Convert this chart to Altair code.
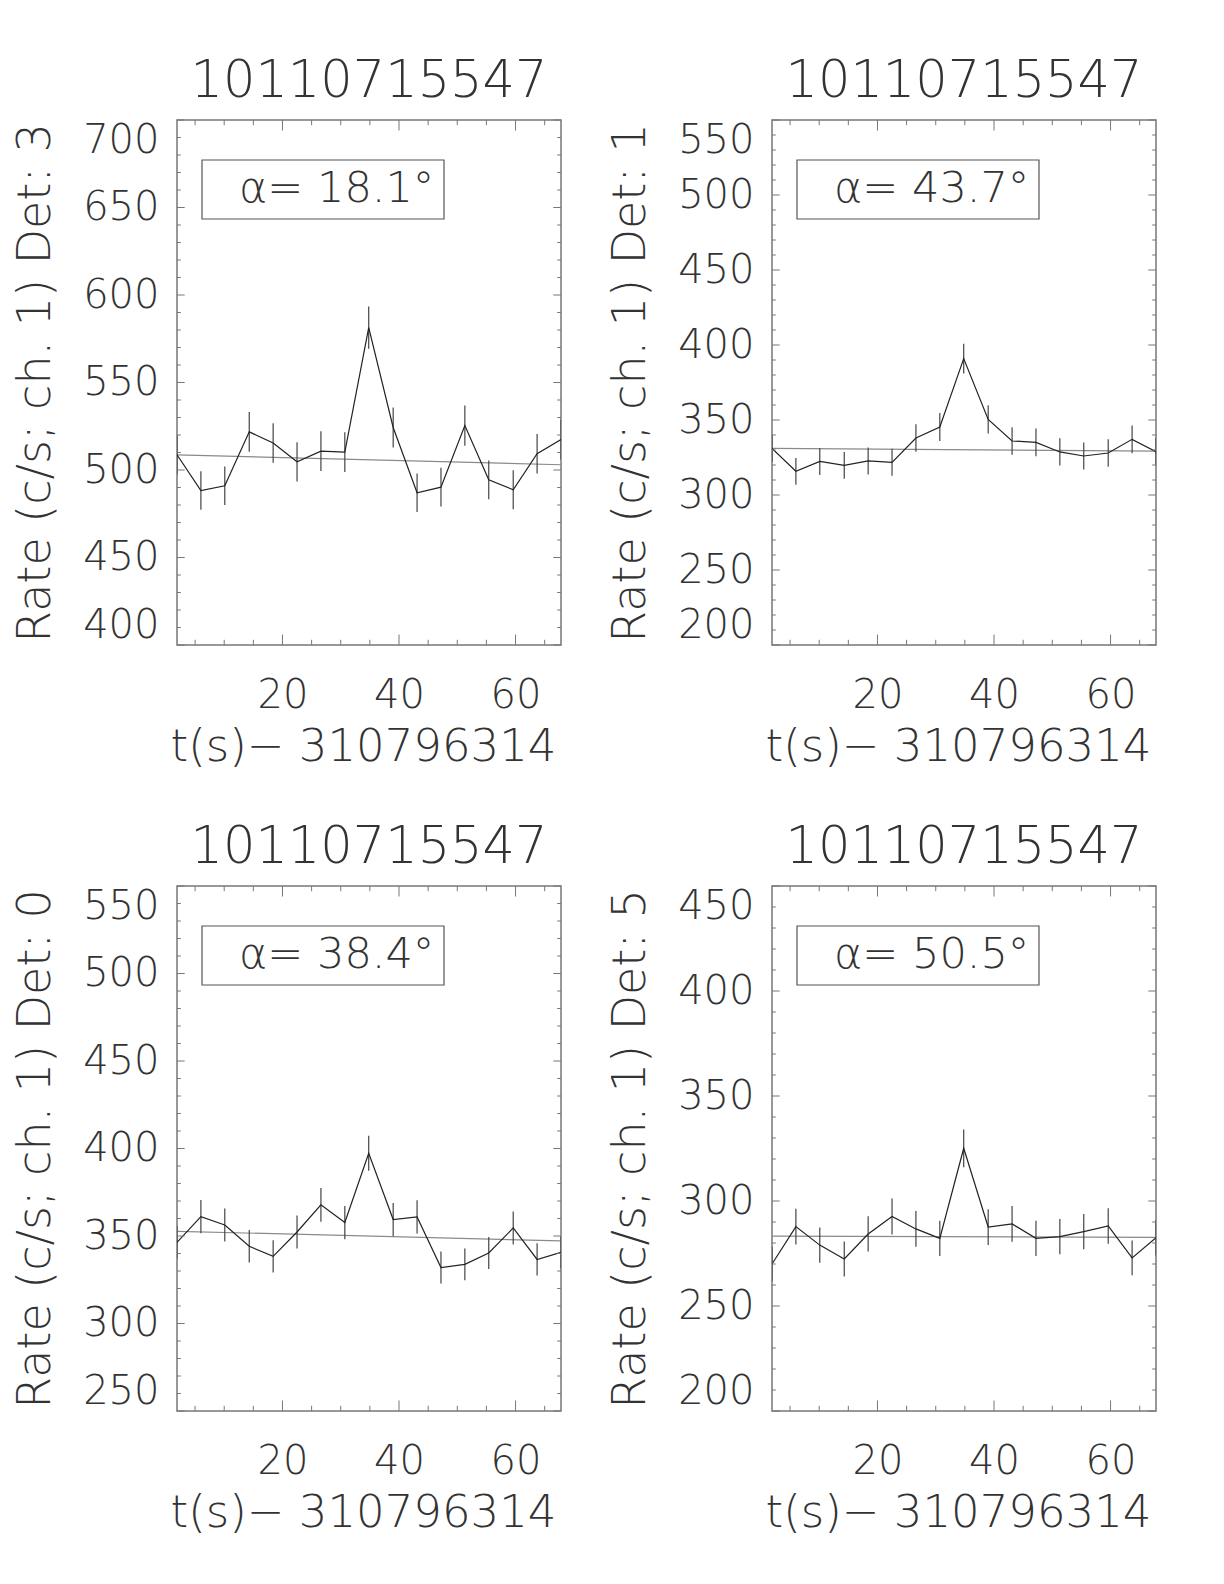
import altair as alt
import pandas as pd

# ---- data ----
t = [1.9, 6.0, 10.1, 14.3, 18.4, 22.5, 26.6, 30.7, 34.8, 39.0, 43.1, 47.2, 51.3, 55.4, 59.6, 63.7, 67.8]

obs_id = "10110715547"
x_title = "t(s)\u2212 310796314"
dets = [3, 1, 0, 5]
alphas = ["18.1", "43.7", "38.4", "50.5"]
y_domains = [[400, 700], [200, 550], [250, 550], [200, 450]]

rates1 = [508.7, 488.3, 491.0, 521.8, 515.4, 504.7, 510.8, 510.2, 581.4, 524.3, 487.0, 490.2, 525.4, 494.4, 488.7, 509.3, 517.4]
rates2 = [331.1, 315.8, 322.4, 319.8, 322.7, 321.8, 338.0, 345.3, 390.9, 350.4, 336.0, 335.1, 328.7, 326.0, 328.0, 337.1, 328.9]
rates3 = [346.4, 361.1, 356.3, 344.1, 338.4, 352.3, 367.8, 357.7, 397.3, 359.4, 360.9, 332.0, 333.8, 340.3, 354.6, 336.6, 340.7]
rates4 = [270.0, 287.8, 279.0, 272.4, 284.3, 292.6, 286.7, 282.2, 325.1, 287.6, 289.1, 282.2, 283.0, 285.4, 288.1, 272.9, 282.5]

err1 = [11.3, 11.0, 11.0, 11.4, 11.3, 11.2, 11.3, 11.3, 12.1, 11.4, 11.0, 11.1, 11.5, 11.1, 11.1, 11.3, 11.4]
err2 = [9.1, 8.9, 9.0, 8.9, 9.0, 9.0, 9.2, 9.3, 9.9, 9.4, 9.2, 9.2, 9.1, 9.0, 9.1, 9.2, 9.1]
err3 = [9.3, 9.5, 9.4, 9.3, 9.2, 9.4, 9.6, 9.5, 10.0, 9.5, 9.5, 9.1, 9.1, 9.2, 9.4, 9.2, 9.2]
err4 = [8.2, 8.5, 8.4, 8.3, 8.4, 8.6, 8.5, 8.4, 9.0, 8.5, 8.5, 8.4, 8.4, 8.4, 8.5, 8.3, 8.4]

bg_t = [1.9, 67.8]
bg1 = [508.7, 503.0]
bg2 = [331.1, 329.3]
bg3 = [352.7, 347.2]
bg4 = [283.3, 282.7]

x_major = [20, 40, 60]
x_minor = [5, 10, 15, 25, 30, 35, 45, 50, 55, 65]
y_major = [[400, 450, 500, 550, 600, 650, 700],
           [200, 250, 300, 350, 400, 450, 500, 550],
           [250, 300, 350, 400, 450, 500, 550],
           [200, 250, 300, 350, 400, 450]]

rates = [rates1, rates2, rates3, rates4]
errs = [err1, err2, err3, err4]
bgs = [bg1, bg2, bg3, bg4]

FONT = "DejaVu Sans"
TXT = "#333333"
W, H = 384, 525
TICK = "#777777"


def panel(i):
    ydom = y_domains[i]
    xs = alt.Scale(domain=[t[0], t[-1]], nice=False, zero=False)
    ys = alt.Scale(domain=ydom, nice=False, zero=False)
    df = pd.DataFrame({"t": t, "rate": rates[i], "err": errs[i]})
    df["lo"] = df["rate"] - df["err"]
    df["hi"] = df["rate"] + df["err"]

    xax = alt.Axis(values=x_major, ticks=False, domain=False, grid=False,
                   labelPadding=30, title=x_title, titlePadding=9, titleX=186,
                   format="d")
    yax = alt.Axis(values=y_major[i], ticks=False, domain=False, grid=False,
                   labelFlush=True, labelPadding=18, format="d",
                   title=f"Rate (c/s; ch. 1) Det: {dets[i]}", titlePadding=23)

    line = alt.Chart(df).mark_line(color="#222222", strokeWidth=1.2, clip=True).encode(
        x=alt.X("t:Q", scale=xs, axis=xax),
        y=alt.Y("rate:Q", scale=ys, axis=yax),
    )
    ebar = alt.Chart(df).mark_rule(color="#444444", strokeWidth=1.2, clip=True).encode(
        x=alt.X("t:Q", scale=xs, axis=xax),
        y=alt.Y("lo:Q", scale=ys, axis=yax),
        y2="hi:Q",
    )
    bgdf = pd.DataFrame({"t": bg_t, "r": bgs[i]})
    bg = alt.Chart(bgdf).mark_line(color="#8a8a8a", strokeWidth=1.2, clip=True).encode(
        x=alt.X("t:Q", scale=xs, axis=xax),
        y=alt.Y("r:Q", scale=ys, axis=yax),
    )

    layers = [bg, ebar, line]

    # inward ticks on all four sides (IDL style)
    ymin = [v for v in range(ydom[0], ydom[1] + 1, 10) if v not in y_major[i]]
    for vals, ln in [(y_major[i], 7.7), (ymin, 3.8)]:
        d = pd.DataFrame({"v": vals})
        for a, b in [(0, ln), (W - ln, W)]:
            layers.append(alt.Chart(d).mark_rule(color=TICK, strokeWidth=1).encode(
                y=alt.Y("v:Q", scale=ys, axis=yax),
                x=alt.value(a), x2=alt.value(b)))
    for vals, ln in [(x_major, 10.5), (x_minor, 5.2)]:
        d = pd.DataFrame({"v": vals})
        for a, b in [(0, ln), (H - ln, H)]:
            layers.append(alt.Chart(d).mark_rule(color=TICK, strokeWidth=1).encode(
                x=alt.X("v:Q", scale=xs, axis=xax),
                y=alt.value(a), y2=alt.value(b)))

    ann = pd.DataFrame({"label": [f"\u03b1=  {alphas[i]}\u00b0"]})
    box = alt.Chart(ann).mark_rect(filled=False, stroke="#555555", strokeWidth=1.2).encode(
        x=alt.value(25), x2=alt.value(267), y=alt.value(40), y2=alt.value(99))
    txt = alt.Chart(ann).mark_text(align="left", baseline="alphabetic", fontSize=43,
                                   font=FONT, color=TXT, fontWeight=200).encode(
        x=alt.value(62), y=alt.value(82), text="label:N")
    layers += [box, txt]

    return alt.layer(*layers).properties(
        width=W, height=H,
        title=alt.TitleParams(obs_id, fontSize=51, font=FONT, fontWeight=200, color=TXT,
                              frame="group", anchor="middle", baseline="alphabetic", offset=-28),
    )


row1 = alt.hconcat(panel(0), panel(1), spacing=43)
row2 = alt.hconcat(panel(2), panel(3), spacing=43)
chart = alt.vconcat(row1, row2, spacing=50).properties(
    padding={"top": 46, "left": 3, "right": 5, "bottom": 5}
).configure_view(
    stroke="#777777", strokeWidth=1.5
).configure_axis(
    labelFont=FONT, labelFontSize=40, labelColor=TXT, labelFontWeight=200,
    titleFont=FONT, titleFontSize=45, titleColor=TXT, titleFontWeight=200,
).configure_axisY(titleFontSize=46)

chart.save("out.html", embed_options={"renderer": "svg", "actions": False})
